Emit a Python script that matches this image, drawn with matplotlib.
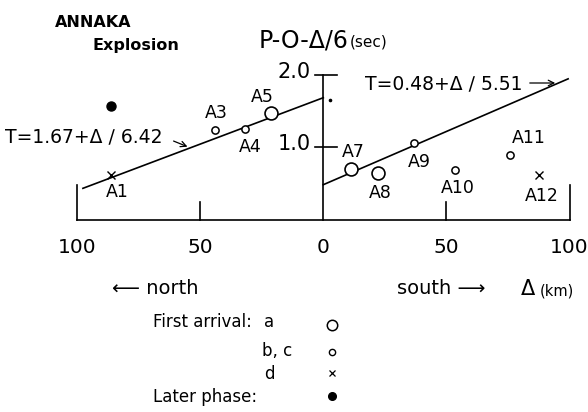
import numpy as np
import matplotlib
matplotlib.use("Agg")
import matplotlib.pyplot as plt

plt.rcParams['font.family'] = ['DejaVu Sans']

# stations: distance from shot point (km), reduced time P-O-D/6 (sec)
north_names = ['A1', 'A3', 'A4', 'A5']
north_km = [86.3, 44.0, 31.8, 21.4]
north_t = [0.61, 1.24, 1.25, 1.47]
north_kind = ['d', 'bc', 'bc', 'a']

south_names = ['A7', 'A8', 'A9', 'A10', 'A11', 'A12']
south_km = [11.3, 22.2, 36.8, 53.5, 75.8, 87.6]
south_t = [0.70, 0.64, 1.06, 0.68, 0.89, 0.61]
south_kind = ['a', 'a', 'bc', 'bc', 'bc', 'd']

# later phase
later_km = [-86.0]
later_t = [1.56]
speck_km = [2.7]
speck_t = [1.65]

# travel time lines
north_fit_km = [97.6, 0.0]
north_fit_t = [0.43, 1.68]
south_fit_km = [0.0, 99.4]
south_fit_t = [0.48, 1.94]

xticks = [-100, -50, 0, 50, 100]
xtick_labels = ['100', '50', '0', '50', '100']
yticks = [1.0, 2.0]
ytick_labels = ['1.0', '2.0']

W, H = 588, 412
X0, SX = 323.3, 2.463   # pixel of 0 km, px per km
Y0, SY = 219.5, 72.5    # pixel of 0 sec, px per sec


def at(px, py):
    return (px - X0) / SX, (Y0 - py) / SY


fig = plt.figure(figsize=(W / 100, H / 100), dpi=100)
ax = fig.add_axes([0, 0, 1, 1])
ax.set_xlim(at(0, 0)[0], at(W, 0)[0])
ax.set_ylim(at(0, H)[1], at(0, 0)[1])
ax.axis('off')

lw = 1.2
# frame
ax.plot([-100, 100], [0, 0], color='k', lw=lw)
ax.plot([0, 0], [0, 2.0], color='k', lw=lw)
for xt, lab in zip(xticks, xtick_labels):
    if xt != 0:
        top = 0.47 if abs(xt) == 100 else 0.245
        ax.plot([xt, xt], [0, top], color='k', lw=lw)
    ax.text(xt, at(0, 247)[1], lab, ha='center', va='center', fontsize=14.5)
for yt, lab in zip(yticks, ytick_labels):
    ax.plot([-3.4, 5.4], [yt, yt], color='k', lw=lw)
    ax.text(at(311, 0)[0], yt + 0.04, lab, ha='right', va='center', fontsize=15)

# fitted lines
ax.plot(-np.array(north_fit_km), north_fit_t, color='k', lw=lw)
ax.plot(south_fit_km, south_fit_t, color='k', lw=lw)

# markers
names = north_names + south_names
xs = list(-np.array(north_km)) + south_km
ts = north_t + south_t
kinds = north_kind + south_kind
style = {
    'a': dict(marker='o', ms=9.3, mfc='white', mec='k', mew=1.2),
    'bc': dict(marker='o', ms=5.2, mfc='white', mec='k', mew=1.1),
    'd': dict(marker='x', ms=5.5, mec='k', mew=1.0),
}
for x, t, k in zip(xs, ts, kinds):
    ax.plot(x, t, ls='none', zorder=3, **style[k])
ax.plot(later_km, later_t, ls='none', marker='o', ms=6.5, color='k')
ax.plot(speck_km, speck_t, ls='none', marker='o', ms=1.6, color='k')

label_px = [(117, 192), (216, 113), (250, 147), (262, 97), (353, 152),
            (380, 193), (419, 162), (458, 188), (529, 138), (542, 196)]
for name, (px, py) in zip(names, label_px):
    ax.text(*at(px, py), name, ha='center', va='center', fontsize=12.5)

# equations
ax.text(*at(5, 137), 'T=1.67+\u0394 \u2215 6.42', ha='left', va='center', fontsize=13.5)
ax.annotate('', xy=(-54.1, 0.99), xytext=at(171, 140),
            arrowprops=dict(arrowstyle='->', lw=0.9, color='k', mutation_scale=10))
ax.text(*at(365, 84), 'T=0.48+\u0394 \u2215 5.51', ha='left', va='center', fontsize=13.5)
ax.annotate('', xy=at(558, 83), xytext=at(527, 83),
            arrowprops=dict(arrowstyle='->', lw=0.9, color='k', mutation_scale=10))

# titles
ax.text(*at(55, 22), 'ANNAKA', ha='left', va='center', fontsize=11.5, fontweight='bold')
ax.text(*at(93, 45), 'Explosion', ha='left', va='center', fontsize=11.5, fontweight='bold')
ax.text(*at(259, 40), 'P-O-\u0394/6', ha='left', va='center', fontsize=17)
ax.text(*at(350, 42), '(sec)', ha='left', va='center', fontsize=11)

# direction labels
ax.text(*at(112, 289), '\u27f5 north', ha='left', va='center', fontsize=14)
ax.text(*at(397, 289), 'south \u27f6', ha='left', va='center', fontsize=14)
ax.text(*at(521, 289), '\u0394', ha='left', va='center', fontsize=15)
ax.text(*at(540, 291), '(km)', ha='left', va='center', fontsize=10.5)

# legend
fs = 12
ax.text(*at(153, 322), 'First arrival:', ha='left', va='center', fontsize=fs)
ax.text(*at(264, 322), 'a', ha='left', va='center', fontsize=fs)
ax.text(*at(262, 351), 'b, c', ha='left', va='center', fontsize=fs)
ax.text(*at(264, 374), 'd', ha='left', va='center', fontsize=fs)
ax.text(*at(153, 397), 'Later phase:', ha='left', va='center', fontsize=fs)
ax.plot(*at(332, 325), ls='none', marker='o', ms=7.5, mfc='white', mec='k', mew=1.1)
ax.plot(*at(332, 352), ls='none', marker='o', ms=4.5, mfc='white', mec='k', mew=1.0)
ax.plot(*at(332, 373), ls='none', marker='x', ms=4.5, mec='k', mew=0.9)
ax.plot(*at(332, 396), ls='none', marker='o', ms=5.5, color='k')

fig.savefig('out.png', dpi=100)
